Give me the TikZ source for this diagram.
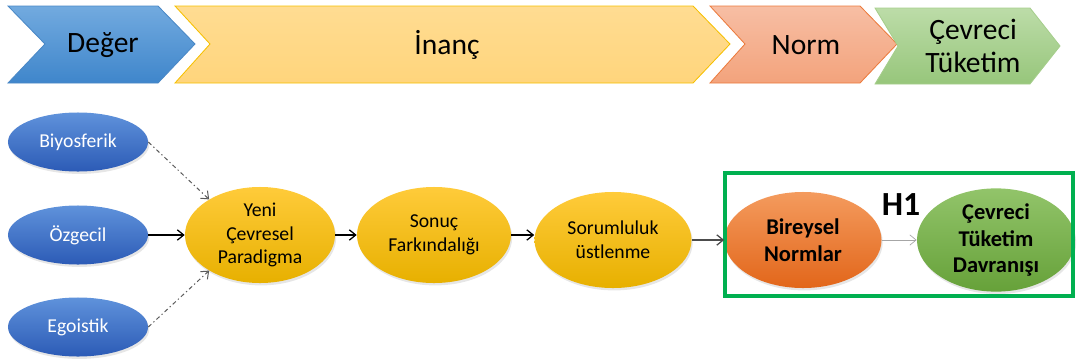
\documentclass[tikz,border=0pt]{standalone}
\usepackage{fontspec}
\setmainfont{Carlito}
\usetikzlibrary{arrows.meta}
\usetikzlibrary{shapes.geometric}
\usetikzlibrary{shadows}

\definecolor{bluetop}{HTML}{72AADF}
\definecolor{bluebottom}{HTML}{3F86CB}
\definecolor{blueedge}{HTML}{4A88C6}
\definecolor{goldtop}{HTML}{FFDC92}
\definecolor{goldbottom}{HTML}{FFD57C}
\definecolor{goldedge}{HTML}{F6C000}
\definecolor{salmontop}{HTML}{F7BEA4}
\definecolor{salmonbottom}{HTML}{F3A37C}
\definecolor{salmonedge}{HTML}{EC7B3D}
\definecolor{mintop}{HTML}{BCDCA8}
\definecolor{minbottom}{HTML}{97C67B}
\definecolor{minedge}{HTML}{A6CE8C}
\definecolor{ovalbluetop}{HTML}{5F92DB}
\definecolor{ovalbluebottom}{HTML}{2C5BB6}
\definecolor{ovalgoldtop}{HTML}{FFCB3A}
\definecolor{ovalgoldbottom}{HTML}{E7B000}
\definecolor{ovalorangetop}{HTML}{F49B5E}
\definecolor{ovalorangebottom}{HTML}{E2661A}
\definecolor{ovalgreentop}{HTML}{92C46A}
\definecolor{ovalgreenbottom}{HTML}{66A139}
\definecolor{boxgreen}{HTML}{00B050}

\begin{document}
\begin{tikzpicture}[
				x=0.025cm, y=-0.025cm,
				arrow/.style={-{Straight Barb[length=1.6mm, width=2.6mm]}, line width=0.9pt},
				stage/.style={line width=0.6pt},
				stagelabel/.style={font=\fontsize{21}{24}\selectfont, align=center},
				oval/.style={ellipse, inner sep=0pt, align=center, font=\fontsize{14}{17}\selectfont,
					drop shadow={opacity=0.2, shadow xshift=0.3mm, shadow yshift=-0.6mm}},
				value/.style={oval, top color=ovalbluetop, bottom color=ovalbluebottom, text=white,
					minimum width=3.5cm, minimum height=1.475cm},
				belief/.style={oval, top color=ovalgoldtop, bottom color=ovalgoldbottom,
					minimum width=3.85cm, minimum height=2.4cm},
				norm/.style={oval, top color=ovalorangetop, bottom color=ovalorangebottom,
					minimum width=3.925cm, minimum height=2.4cm, font=\bfseries\fontsize{16}{19}\selectfont},
				behaviour/.style={oval, top color=ovalgreentop, bottom color=ovalgreenbottom,
					minimum width=3.95cm, minimum height=2.4cm, font=\bfseries\fontsize{16}{19}\selectfont},
			]
				\useasboundingbox (0,0) rectangle (1080,363);

				% stage chevrons along the top
				\draw[stage, draw=blueedge, top color=bluetop, bottom color=bluebottom]
					(8,6) -- (158,6) -- (195,44) -- (158,83) -- (8,83) -- (45,44) -- cycle;
				\draw[stage, draw=goldedge, top color=goldtop, bottom color=goldbottom]
					(175,6) -- (693,6) -- (730,44) -- (693,83) -- (175,83) -- (210,44) -- cycle;
				\draw[stage, draw=salmonedge, top color=salmontop, bottom color=salmonbottom]
					(710,6) -- (860,6) -- (897,44) -- (860,83) -- (710,83) -- (745,44) -- cycle;
				\draw[stage, draw=minedge, top color=mintop, bottom color=minbottom]
					(875,8) -- (1030,8) -- (1060,46) -- (1030,84) -- (875,84) -- (898,46) -- cycle;
				\node[stagelabel] (deger) at (103,45) {Değer};
				\node[stagelabel] (inanc) at (447,45) {İnanç};
				\node[stagelabel] (normstage) at (806,45) {Norm};
				\node[stagelabel] (tuketimstage) at (973,46) {Çevreci\\Tüketim};

				% model
				\node[value] (biyo) at (78,142) {Biyosferik};
				\node[value] (ozg) at (78,235) {Özgecil};
				\node[value] (ego) at (78,327) {Egoistik};
				\node[belief, minimum width=3.75cm] (ycp) at (260,235) {Yeni\\Çevresel\\Paradigma};
				\node[belief] (sonuc) at (434,235) {Sonuç\\Farkındalığı};
				\node[belief, minimum width=3.925cm] (sorum) at (613,240) {Sorumluluk\\üstlenme};
				\node[norm] (bireysel) at (803,240) {Bireysel\\Normlar};
				\node[behaviour] (cevreci) at (996,240) {Çevreci\\Tüketim\\Davranışı};

				\draw[boxgreen, line width=2.2pt] (725,173) rectangle (1073,296);
				\node[font=\bfseries\fontsize{24}{24}\selectfont] (h1) at (901,205) {H1};

				\draw[arrow, gray!70!black, dashdotted, line width=0.7pt] (biyo.east) -- (ycp.145);
				\draw[arrow] (ozg) -- (ycp);
				\draw[arrow, gray!70!black, dashdotted, line width=0.7pt] (ego.east) -- (ycp.215);
				\draw[arrow] (ycp) -- (sonuc);
				\draw[arrow] (sonuc.east) -- (sorum.west|-sonuc.east);
				\draw[arrow, gray!60!black] (sorum) -- (bireysel);
				\draw[arrow, gray!70, line width=0.5pt] (bireysel.east) -- (cevreci.west);
			\end{tikzpicture}
\end{document}
